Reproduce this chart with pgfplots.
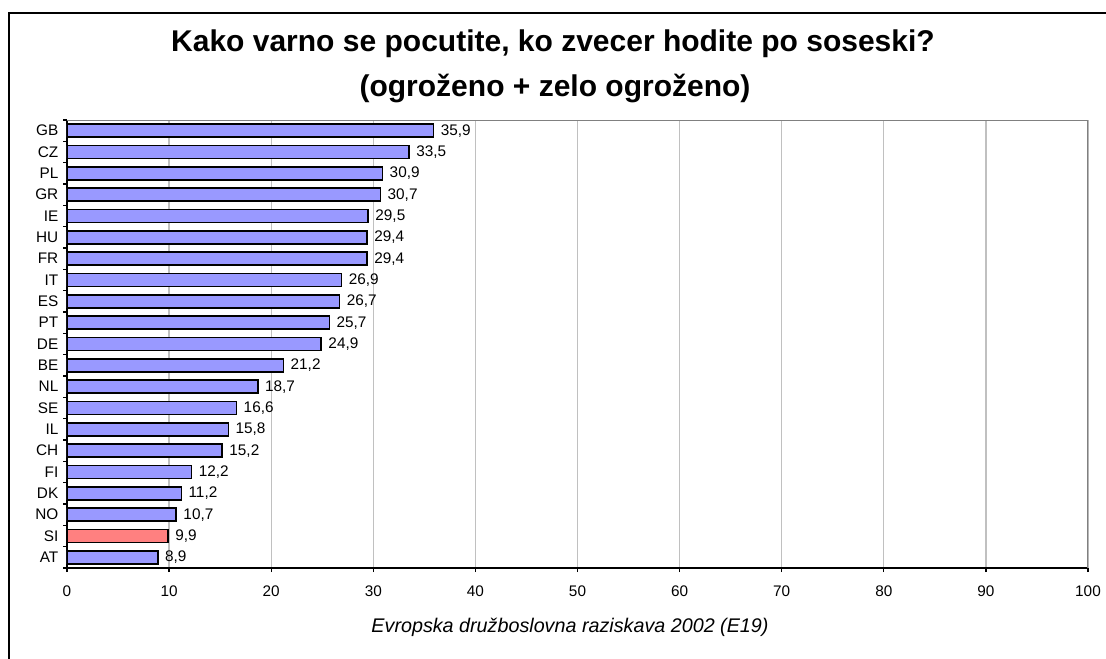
\documentclass[border=0pt]{standalone}
\usepackage{fontspec}
\setmainfont{Liberation Sans}
\usepackage{pgfplots}
\pgfplotsset{compat=1.18}
\definecolor{barblue}{HTML}{9999FF}
\definecolor{barred}{HTML}{FF8080}
\definecolor{gridgray}{HTML}{C0C0C0}
\definecolor{boxgray}{HTML}{808080}

% 1 px of the reference = 0.75pt; y runs downward as negative pt
\begin{document}
\begin{tikzpicture}
\path[use as bounding box] (0pt,0pt) rectangle (829.5pt,-494.25pt);
\fill[white] (0pt,0pt) rectangle (829.5pt,-494.25pt);
\draw[line width=1.5pt] (6.75pt,-494.25pt) -- (6.75pt,-9.75pt) -- (829.5pt,-9.75pt);
\node[anchor=base,inner sep=0pt,font=\fontsize{22.5}{27}\selectfont\bfseries]
  at (414.75pt,-39pt) {Kako varno se pocutite, ko zvecer hodite po soseski?};
\node[anchor=base,inner sep=0pt,font=\fontsize{22.5}{27}\selectfont\bfseries]
  at (416.25pt,-72.75pt) {(ogroženo + zelo ogroženo)};
\node[anchor=base,inner sep=0pt,font=\fontsize{14.8}{17}\selectfont\itshape]
  at (427.5pt,-474pt) {Evropska družboslovna raziskava 2002 (E19)};

\begin{axis}[
    at={(50.25pt,-426pt)}, anchor=south west,
    width=765.75pt, height=336pt, scale only axis,
    xbar, bar width=9.9pt, bar shift=0pt,
    xmin=0, xmax=100, xtick={0,10,...,100},
    ymin=0.5, ymax=21.5, ytick={1,...,21},
    yticklabels={AT,SI,NO,DK,FI,CH,IL,SE,NL,BE,DE,PT,ES,IT,FR,HU,IE,GR,PL,CZ,GB},
    minor ytick={0.5,1.5,...,21.5},
    axis lines*=left,
    axis line style={-, line width=1.4pt, black},
    tick align=outside, major tick length=3pt, minor tick length=3pt,
    major y tick style={draw=none},
    minor y tick style={draw=black, line width=1pt},
    x tick style={draw=black, line width=1pt},
    xmajorgrids, grid style={gridgray, line width=1pt},
    ticklabel style={font=\fontsize{11.5}{13}\selectfont},
    x tick label style={yshift=-7pt},
    /pgf/number format/assume math mode=true,
    point meta=x,
    nodes near coords={\pgfmathprintnumber[use comma,fixed,fixed zerofill,precision=1,assume math mode=true]{\pgfplotspointmeta}},
    every node near coord/.append style={font=\fontsize{11.5}{13}\selectfont, anchor=west, xshift=1.5pt},
]
\addplot[draw=black, line width=1.2pt, fill=barblue] coordinates {
    (8.9,1) (10.7,3) (11.2,4) (12.2,5) (15.2,6) (15.8,7) (16.6,8)
    (18.7,9) (21.2,10) (24.9,11) (25.7,12) (26.7,13) (26.9,14) (29.4,15)
    (29.4,16) (29.5,17) (30.7,18) (30.9,19) (33.5,20) (35.9,21)
};
\addplot[draw=black, line width=1.2pt, fill=barred] coordinates {(9.9,2)};
\draw[boxgray, line width=1.4pt] (rel axis cs:0,1) -- (rel axis cs:1,1) -- (rel axis cs:1,0);
\end{axis}
\end{tikzpicture}
\end{document}
